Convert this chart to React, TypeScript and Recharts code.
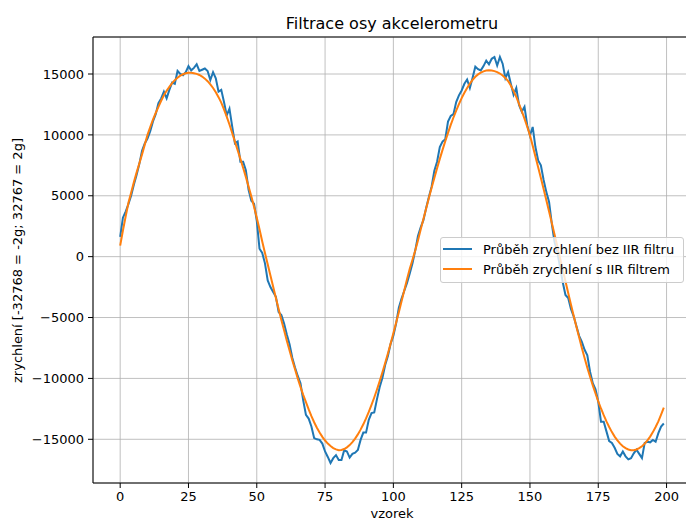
import React from 'react';
import { LineChart, Line, XAxis, YAxis, CartesianGrid, ReferenceLine } from 'recharts';

const rawAccel = [
  1630, 3200, 3700, 4300, 5000, 5900, 6700, 7600, 8700, 9300,
  9700, 10300, 11100, 11700, 12600, 13000, 13550, 13000, 13700, 14300,
  14200, 15250, 15000, 14900, 15150, 15650, 15300, 15500, 15800, 15250,
  15350, 15450, 15250, 14500, 15150, 14650, 13550, 13700, 12700, 11600,
  12150, 10700, 9300, 9450, 7800, 7800, 7100, 5500, 4600, 4350,
  2950, 650, 300, -550, -1950, -2500, -2900, -3300, -4550, -4800,
  -5500, -6400, -7200, -8300, -9100, -9800, -10400, -11800, -13000, -13300,
  -13950, -14900, -15000, -15050, -15350, -16000, -16450, -16950, -16550, -16300,
  -16700, -16700, -15900, -16000, -16500, -16200, -16100, -15880, -15050, -14450,
  -14450, -13400, -12850, -12800, -11700, -10700, -9950, -8900, -8150, -7150,
  -6500, -5500, -4200, -3450, -2800, -2150, -1380, -550, 500, 1700,
  2400, 3000, 4000, 4900, 5750, 7050, 7800, 9000, 9450, 9650,
  11100, 11550, 11700, 12700, 13250, 13650, 14200, 14550, 13850, 14700,
  15600, 15400, 15300, 15650, 16100, 15800, 16250, 16400, 15700, 16400,
  15850, 14650, 15150, 14200, 13300, 13850, 12450, 11900, 12300, 10800,
  9950, 10650, 9000, 7900, 7500, 6300, 5300, 4500, 2700, 1200,
  400, -850, -2100, -3150, -3400, -4300, -4900, -5700, -6500, -7000,
  -7650, -8100, -9450, -10400, -10900, -11900, -13550, -13550, -14350, -15150,
  -15300, -15700, -16200, -16400, -16000, -16400, -16650, -16550, -16150, -15850,
  -16200, -16550, -15300, -15200, -15250, -15050, -15200, -14500, -13950, -13700,
];

const filteredAccel = [
  900, 2150, 3300, 4400, 5250, 6100, 6900, 7650, 8400, 9200,
  10000, 10650, 11250, 11800, 12300, 12800, 13250, 13620, 13950, 14250,
  14500, 14700, 14860, 14980, 15060, 15100, 15100, 15070, 15010, 14920,
  14790, 14620, 14410, 14150, 13850, 13500, 13100, 12650, 12100, 11500,
  10850, 10150, 9450, 8750, 8030, 7300, 6550, 5750, 4950, 4100,
  3200, 2250, 1250, 300, -620, -1550, -2480, -3400, -4300, -5200,
  -6050, -6900, -7700, -8500, -9250, -10000, -10700, -11350, -11950, -12550,
  -13100, -13600, -14050, -14450, -14800, -15100, -15350, -15550, -15720, -15830,
  -15890, -15880, -15800, -15660, -15474, -15232, -14941, -14599, -14208, -13769,
  -13284, -12753, -12179, -11566, -10911, -10221, -9495, -8737, -7950, -7136,
  -6298, -5438, -4560, -3667, -2760, -1846, -1000, -250, 500, 1330,
  2220, 3100, 3960, 4810, 5650, 6460, 7260, 8030, 8770, 9490,
  10170, 10820, 11430, 12000, 12530, 13020, 13460, 13860, 14210, 14520,
  14770, 14970, 15120, 15220, 15280, 15300, 15290, 15240, 15160, 15040,
  14880, 14680, 14420, 14050, 13600, 13120, 12550, 11960, 11330, 10670,
  9970, 9100, 8220, 7340, 6450, 5550, 4630, 3700, 2760, 1820,
  870, -100, -1060, -2020, -2980, -3930, -4850, -5760, -6620, -7500,
  -8330, -9120, -9870, -10570, -11240, -11880, -12470, -13020, -13530, -13990,
  -14410, -14780, -15090, -15360, -15570, -15730, -15840, -15890, -15890, -15840,
  -15730, -15570, -15360, -15090, -14780, -14410, -13990, -13530, -12980, -12400,
];

const xTicks = [0, 25, 50, 75, 100, 125, 150, 175, 200];
const yTicks = [-15000, -10000, -5000, 0, 5000, 10000, 15000];

const seriesRawName = 'Průběh zrychlení bez IIR filtru';
const seriesFiltName = 'Průběh zrychlení s IIR filtrem';
const titleText = 'Filtrace osy akcelerometru';
const xLabelText = 'vzorek';
const yLabelText = 'zrychlení [-32768 = -2g; 32767 = 2g]';

const data = rawAccel.map((v, i) => ({ sample: i, raw: v, filtered: filteredAccel[i] }));

const FONT = '"DejaVu Sans", sans-serif';
const fmt = (v: number) => (v < 0 ? '\u2212' + Math.abs(v) : String(v));

export default function App() {
  return (
    <div
      style={{
        position: 'absolute',
        left: 0,
        top: 0,
        width: 686,
        height: 521,
        overflow: 'hidden',
        background: '#fff',
        fontFamily: FONT,
        color: '#000',
      }}
    >
      <LineChart width={700} height={521} data={data} margin={{ top: 37, right: 9, bottom: 0, left: 0 }}>
        <CartesianGrid stroke="#b0b0b0" strokeWidth={0.8} />
        <XAxis
          dataKey="sample"
          type="number"
          domain={[-9.95, 208.95]}
          ticks={xTicks}
          allowDataOverflow
          interval={0}
          height={38}
          tickSize={5}
          tickMargin={4}
          stroke="#000"
          tick={{ fill: '#000', fontSize: 13, fontFamily: FONT }}
        />
        <YAxis
          type="number"
          domain={[-18590, 18040]}
          ticks={yTicks}
          allowDataOverflow
          interval={0}
          width={93}
          tickSize={5}
          tickMargin={4}
          stroke="#000"
          tickFormatter={fmt}
          tick={{ fill: '#000', fontSize: 13, fontFamily: FONT }}
        />
        <ReferenceLine y={18040} stroke="#000" strokeWidth={1} />
        <Line
          type="linear"
          dataKey="raw"
          name={seriesRawName}
          stroke="#1f77b4"
          strokeWidth={2}
          dot={false}
          isAnimationActive={false}
        />
        <Line
          type="linear"
          dataKey="filtered"
          name={seriesFiltName}
          stroke="#ff7f0e"
          strokeWidth={2}
          dot={false}
          isAnimationActive={false}
        />
      </LineChart>

      <div
        style={{
          position: 'absolute',
          left: 192,
          top: 15.5,
          width: 400,
          textAlign: 'center',
          fontSize: 16,
          lineHeight: '16px',
          whiteSpace: 'nowrap',
        }}
      >
        {titleText}
      </div>

      <div
        style={{
          position: 'absolute',
          left: 292,
          top: 507,
          width: 200,
          textAlign: 'center',
          fontSize: 13,
          lineHeight: '13px',
          whiteSpace: 'nowrap',
        }}
      >
        {xLabelText}
      </div>

      <div
        style={{
          position: 'absolute',
          left: -133,
          top: 253.5,
          width: 300,
          height: 13,
          textAlign: 'center',
          fontSize: 13,
          lineHeight: '13px',
          whiteSpace: 'nowrap',
          transform: 'rotate(-90deg)',
          transformOrigin: '150px 6.5px',
        }}
      >
        {yLabelText}
      </div>

      <div
        style={{
          position: 'absolute',
          left: 440,
          top: 237,
          width: 244,
          height: 46,
          boxSizing: 'border-box',
          border: '1px solid #cccccc',
          borderRadius: 3,
          background: 'rgba(255,255,255,0.8)',
        }}
      >
        <div style={{ position: 'absolute', left: 2, top: 10, width: 29, height: 2, background: '#1f77b4' }} />
        <div
          style={{ position: 'absolute', left: 42, top: 4.5, fontSize: 13, lineHeight: '13px', whiteSpace: 'nowrap' }}
        >
          {seriesRawName}
        </div>
        <div style={{ position: 'absolute', left: 2, top: 30, width: 29, height: 2, background: '#ff7f0e' }} />
        <div
          style={{ position: 'absolute', left: 42, top: 24.5, fontSize: 13, lineHeight: '13px', whiteSpace: 'nowrap' }}
        >
          {seriesFiltName}
        </div>
      </div>
    </div>
  );
}
